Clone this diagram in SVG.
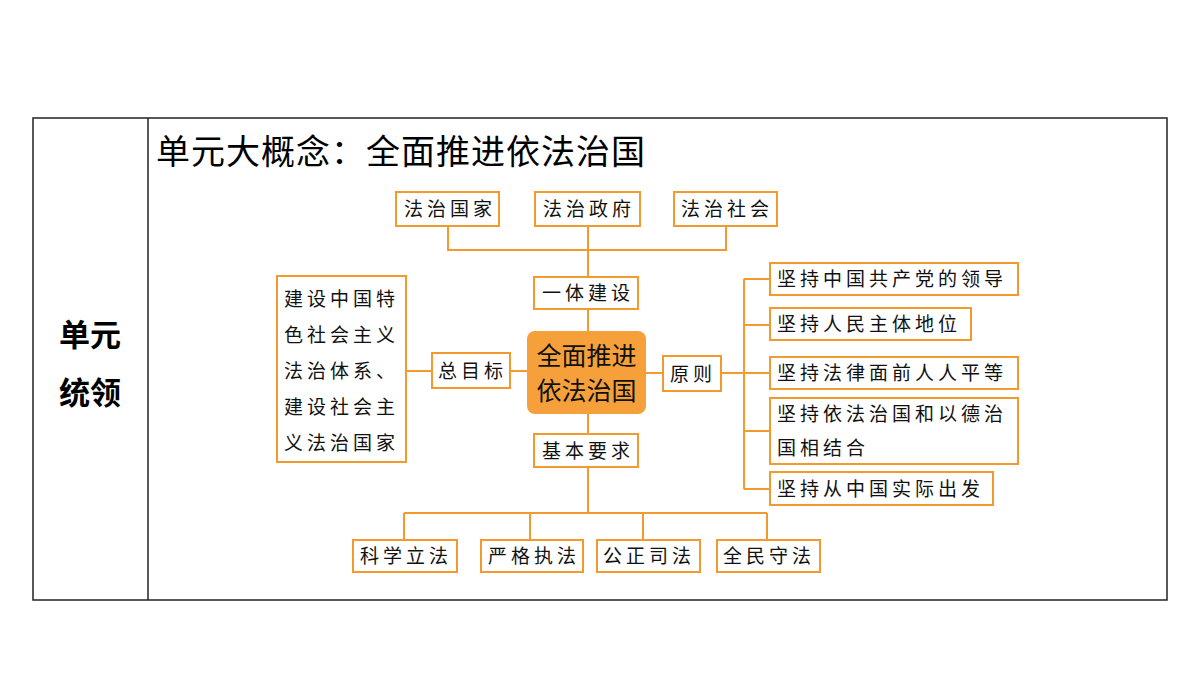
<svg xmlns="http://www.w3.org/2000/svg" width="1200" height="675" viewBox="0 0 1200 675">
<style>
.b{fill:#fff;stroke:#F39A2E;stroke-width:2}
.t{font-family:"Noto Sans CJK SC",sans-serif;font-size:19px;letter-spacing:4px;fill:#111}
.c{stroke:#F39A2E;stroke-width:2;fill:none}
</style>
<rect width="1200" height="675" fill="#fff"/>
<rect x="33" y="118" width="1134" height="482" fill="none" stroke="#222" stroke-width="1.5"/>
<line x1="148" y1="118" x2="148" y2="600" stroke="#222" stroke-width="1.5"/>
<text x="90" y="346" text-anchor="middle" font-family="Noto Sans CJK SC,sans-serif" font-size="31" font-weight="bold">单元</text>
<text x="90" y="404" text-anchor="middle" font-family="Noto Sans CJK SC,sans-serif" font-size="31" font-weight="bold">统领</text>
<text x="156" y="164" font-family="Noto Sans CJK SC,sans-serif" font-size="34" letter-spacing="1">单元大概念：全面推进依法治国</text>
<g id="connectors" class="c">
<path d="M448 226V250H726V226M588 226V277M588 309V331"/>
<path d="M510 371H527M406 371H432"/>
<path d="M646 373H663M721 373H744M744 279V489M744 279H770M744 325H770M744 373H770M744 431H770M744 489H770"/>
<path d="M588 414V434M588 467V513M404 513H767M404 513V540M530 513V540M643 513V540M767 513V540"/>
</g>
<g id="n1"><rect class="b" x="396" y="192" width="103" height="34"/><text class="t" x="404" y="216">法治国家</text></g>
<g id="n2"><rect class="b" x="535" y="192" width="105" height="34"/><text class="t" x="543" y="216">法治政府</text></g>
<g id="n3"><rect class="b" x="674" y="192" width="103" height="34"/><text class="t" x="681" y="216">法治社会</text></g>
<g id="n4"><rect class="b" x="534" y="277" width="104" height="32"/><text class="t" x="542" y="300">一体建设</text></g>
<g id="center"><rect x="527" y="331" width="119" height="83" rx="8" fill="#F5A03A"/><text x="586.5" y="365" text-anchor="middle" font-family="Noto Sans CJK SC,sans-serif" font-size="25" fill="#111">全面推进</text><text x="586.5" y="400" text-anchor="middle" font-family="Noto Sans CJK SC,sans-serif" font-size="25" fill="#111">依法治国</text></g>
<g id="n5"><rect class="b" x="432" y="353" width="78" height="35"/><text class="t" x="438" y="378">总目标</text></g>
<g id="n6"><rect class="b" x="277" y="276" width="129" height="186"/>
<text class="t" x="284" y="306">建设中国特</text><text class="t" x="284" y="342">色社会主义</text><text class="t" x="284" y="378">法治体系、</text><text class="t" x="284" y="414">建设社会主</text><text class="t" x="284" y="450">义法治国家</text></g>
<g id="n7"><rect class="b" x="663" y="356" width="58" height="35"/><text class="t" x="670" y="381">原则</text></g>
<g id="r1"><rect class="b" x="770" y="263" width="248" height="32"/><text class="t" x="777" y="286">坚持中国共产党的领导</text></g>
<g id="r2"><rect class="b" x="770" y="308" width="201" height="32"/><text class="t" x="777" y="331">坚持人民主体地位</text></g>
<g id="r3"><rect class="b" x="770" y="357" width="248" height="32"/><text class="t" x="777" y="380">坚持法律面前人人平等</text></g>
<g id="r4"><rect class="b" x="770" y="398" width="248" height="66"/><text class="t" x="777" y="421">坚持依法治国和以德治</text><text class="t" x="777" y="455">国相结合</text></g>
<g id="r5"><rect class="b" x="770" y="472" width="223" height="33"/><text class="t" x="777" y="496">坚持从中国实际出发</text></g>
<g id="n8"><rect class="b" x="534" y="434" width="104" height="33"/><text class="t" x="542" y="458">基本要求</text></g>
<g id="b1"><rect class="b" x="353" y="540" width="104" height="32"/><text class="t" x="360" y="563">科学立法</text></g>
<g id="b2"><rect class="b" x="481" y="540" width="102" height="32"/><text class="t" x="488" y="563">严格执法</text></g>
<g id="b3"><rect class="b" x="597" y="540" width="103" height="32"/><text class="t" x="603" y="563">公正司法</text></g>
<g id="b4"><rect class="b" x="717" y="540" width="103" height="32"/><text class="t" x="723" y="563">全民守法</text></g>
</svg>
